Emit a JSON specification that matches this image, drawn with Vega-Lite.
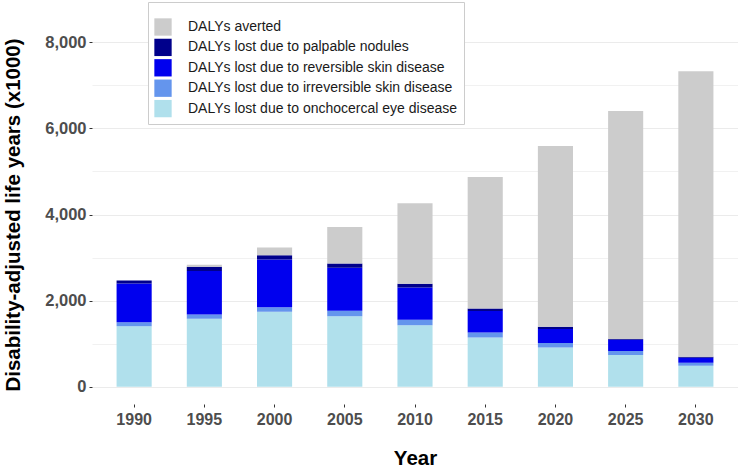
{
  "$schema": "https://vega.github.io/schema/vega-lite/v6.json",
  "width": 646,
  "height": 379,
  "autosize": {"type": "none"},
  "padding": {"left": 92, "top": 25, "right": 0, "bottom": 64},
  "background": "white",
  "config": {
    "view": {"stroke": null},
    "font": "Liberation Sans"
  },
  "data": {
    "values": [
      {"year": "1990", "category": "DALYs lost due to onchocercal eye disease", "value": 1408},
      {"year": "1990", "category": "DALYs lost due to irreversible skin disease", "value": 93},
      {"year": "1990", "category": "DALYs lost due to reversible skin disease", "value": 898},
      {"year": "1990", "category": "DALYs lost due to palpable nodules", "value": 70},
      {"year": "1990", "category": "DALYs averted", "value": 0},
      {"year": "1995", "category": "DALYs lost due to onchocercal eye disease", "value": 1578},
      {"year": "1995", "category": "DALYs lost due to irreversible skin disease", "value": 102},
      {"year": "1995", "category": "DALYs lost due to reversible skin disease", "value": 1011},
      {"year": "1995", "category": "DALYs lost due to palpable nodules", "value": 93},
      {"year": "1995", "category": "DALYs averted", "value": 47},
      {"year": "2000", "category": "DALYs lost due to onchocercal eye disease", "value": 1740},
      {"year": "2000", "category": "DALYs lost due to irreversible skin disease", "value": 109},
      {"year": "2000", "category": "DALYs lost due to reversible skin disease", "value": 1107},
      {"year": "2000", "category": "DALYs lost due to palpable nodules", "value": 100},
      {"year": "2000", "category": "DALYs averted", "value": 178},
      {"year": "2005", "category": "DALYs lost due to onchocercal eye disease", "value": 1640},
      {"year": "2005", "category": "DALYs lost due to irreversible skin disease", "value": 123},
      {"year": "2005", "category": "DALYs lost due to reversible skin disease", "value": 998},
      {"year": "2005", "category": "DALYs lost due to palpable nodules", "value": 102},
      {"year": "2005", "category": "DALYs averted", "value": 849},
      {"year": "2010", "category": "DALYs lost due to onchocercal eye disease", "value": 1431},
      {"year": "2010", "category": "DALYs lost due to irreversible skin disease", "value": 124},
      {"year": "2010", "category": "DALYs lost due to reversible skin disease", "value": 749},
      {"year": "2010", "category": "DALYs lost due to palpable nodules", "value": 86},
      {"year": "2010", "category": "DALYs averted", "value": 1872},
      {"year": "2015", "category": "DALYs lost due to onchocercal eye disease", "value": 1144},
      {"year": "2015", "category": "DALYs lost due to irreversible skin disease", "value": 116},
      {"year": "2015", "category": "DALYs lost due to reversible skin disease", "value": 502},
      {"year": "2015", "category": "DALYs lost due to palpable nodules", "value": 53},
      {"year": "2015", "category": "DALYs averted", "value": 3057},
      {"year": "2020", "category": "DALYs lost due to onchocercal eye disease", "value": 909},
      {"year": "2020", "category": "DALYs lost due to irreversible skin disease", "value": 108},
      {"year": "2020", "category": "DALYs lost due to reversible skin disease", "value": 325},
      {"year": "2020", "category": "DALYs lost due to palpable nodules", "value": 53},
      {"year": "2020", "category": "DALYs averted", "value": 4197},
      {"year": "2025", "category": "DALYs lost due to onchocercal eye disease", "value": 735},
      {"year": "2025", "category": "DALYs lost due to irreversible skin disease", "value": 93},
      {"year": "2025", "category": "DALYs lost due to reversible skin disease", "value": 262},
      {"year": "2025", "category": "DALYs lost due to palpable nodules", "value": 17},
      {"year": "2025", "category": "DALYs averted", "value": 5297},
      {"year": "2030", "category": "DALYs lost due to onchocercal eye disease", "value": 487},
      {"year": "2030", "category": "DALYs lost due to irreversible skin disease", "value": 70},
      {"year": "2030", "category": "DALYs lost due to reversible skin disease", "value": 116},
      {"year": "2030", "category": "DALYs lost due to palpable nodules", "value": 23},
      {"year": "2030", "category": "DALYs averted", "value": 6629}
    ]
  },
  "transform": [
    {"calculate": "indexof(['DALYs averted','DALYs lost due to palpable nodules','DALYs lost due to reversible skin disease','DALYs lost due to irreversible skin disease','DALYs lost due to onchocercal eye disease'], datum.category)", "as": "rank"}
  ],
  "mark": {"type": "bar"},
  "encoding": {
    "x": {
      "field": "year",
      "type": "ordinal",
      "scale": {"paddingInner": 0.5, "paddingOuter": 0.35},
      "axis": {
        "title": "Year",
        "titleFont": "Liberation Sans",
        "titleFontSize": 20.5,
        "titleFontWeight": "bold",
        "titleColor": "#000000",
        "titlePadding": 21,
        "labelAngle": 0,
        "labelFont": "Liberation Sans",
        "labelFontSize": 16,
        "labelFontWeight": "bold",
        "labelColor": "#4d4d4d",
        "labelPadding": 4,
        "domain": false,
        "ticks": true,
        "tickSize": 3,
        "tickColor": "#333333",
        "grid": false
      }
    },
    "y": {
      "field": "value",
      "type": "quantitative",
      "stack": "zero",
      "scale": {"domain": [-400, 8400], "nice": false, "zero": false},
      "axis": {
        "title": "Disability-adjusted life years (x1000)",
        "titleFont": "Liberation Sans",
        "titleFontSize": 20.5,
        "titleFontWeight": "bold",
        "titleColor": "#000000",
        "titlePadding": 21,
        "values": [0, 1000, 2000, 3000, 4000, 5000, 6000, 7000, 8000],
        "labelExpr": "datum.value % 2000 === 0 ? format(datum.value, ',') : ''",
        "labelFont": "Liberation Sans",
        "labelFontSize": 16.5,
        "labelFontWeight": "bold",
        "labelColor": "#4d4d4d",
        "labelPadding": 3,
        "domain": false,
        "tickSize": 3,
        "tickColor": {"condition": {"test": "datum.value % 2000 === 0", "value": "#333333"}, "value": "transparent"},
        "grid": true,
        "gridColor": "#ebebeb",
        "gridWidth": {"condition": {"test": "datum.value % 2000 === 0", "value": 1.1}, "value": 0.7}
      }
    },
    "color": {
      "field": "category",
      "type": "nominal",
      "scale": {
        "domain": ["DALYs averted", "DALYs lost due to palpable nodules", "DALYs lost due to reversible skin disease", "DALYs lost due to irreversible skin disease", "DALYs lost due to onchocercal eye disease"],
        "range": ["#cccccc", "#00008b", "#0000ee", "#6495ed", "#b0e0ec"]
      },
      "legend": {
        "orient": "none",
        "legendX": 56,
        "legendY": -23,
        "title": " ",
        "titleFontSize": 8,
        "titlePadding": 2,
        "padding": 6,
        "fillColor": "white",
        "strokeColor": "#cccccc",
        "symbolType": "square",
        "symbolSize": 300,
        "symbolStrokeWidth": 0,
        "symbolOpacity": 1,
        "rowPadding": 2.4,
        "labelFont": "Liberation Sans",
        "labelFontSize": 14,
        "labelColor": "#1a1a1a",
        "labelOffset": 16,
        "labelLimit": 400
      }
    },
    "order": {"field": "rank", "type": "quantitative", "sort": "descending"}
  }
}
